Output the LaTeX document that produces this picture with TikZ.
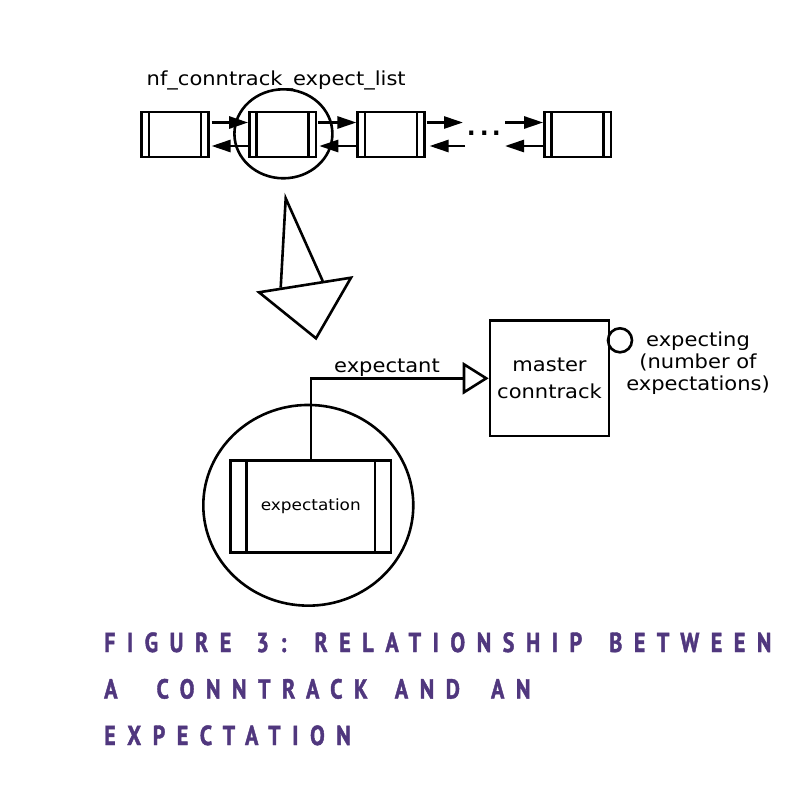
\documentclass[tikz,border=0pt]{standalone}
\usepackage{fontspec}
\setmainfont{DejaVu Sans}
\newfontfamily\dv[FakeStretch=1.09]{DejaVu Sans}
\newfontfamily\capfont[FakeStretch=0.8,FakeBold=1.5,LetterSpace=42]{PT Sans}
\newcommand\capgap[1][8pt]{\hspace*{#1}}
\usetikzlibrary{arrows.meta,shapes.geometric}
\definecolor{cappurple}{RGB}{80,55,126}
\tikzset{
  lw/.style={line width=2.6pt},
  listbox/.style={draw, lw, rectangle, minimum width=66.5pt, minimum height=45pt, inner sep=0pt,
    path picture={
      \draw[line width=2.6pt] ([xshift=7.3pt]path picture bounding box.north west) -- ([xshift=7.3pt]path picture bounding box.south west);
      \draw[line width=2.6pt] ([xshift=-7.3pt]path picture bounding box.north east) -- ([xshift=-7.3pt]path picture bounding box.south east);}},
  expbox/.style={draw, lw, rectangle, minimum width=160.3pt, minimum height=91.6pt, inner sep=0pt,
    font=\dv\fontsize{15.5}{18}\selectfont,
    path picture={
      \draw[line width=2.6pt] ([xshift=16pt]path picture bounding box.north west) -- ([xshift=16pt]path picture bounding box.south west);
      \draw[line width=2.6pt] ([xshift=-16pt]path picture bounding box.north east) -- ([xshift=-16pt]path picture bounding box.south east);}},
  arr/.style={lw, -{Triangle[length=19pt,width=12pt]}},
  ring/.style={draw, lw, ellipse, inner sep=0pt},
  lbl/.style={font=\dv\fontsize{19.3}{22}\selectfont, inner sep=0pt},
  capstyle/.style={font=\capfont\bfseries\fontsize{27.5}{30}\selectfont, text=cappurple, inner sep=0pt, anchor=base west},
}
\begin{document}
\begin{tikzpicture}[x=1pt, y=-1pt]
\useasboundingbox (0,0) rectangle (794,792);
\fill[white] (0,0) rectangle (794,792);

% linked list
\node[listbox] (l1) at (175,134.5) {};
\node[listbox] (l2) at (282.7,134.5) {};
\node[listbox] (l3) at (391,134.5) {};
\node[listbox] (l4) at (577.7,134.5) {};
\node[ring, minimum width=98pt, minimum height=89pt] (r1) at (283.4,133.8) {};
\node[lbl, anchor=base west] (title) at (146.5,85) {nf\_conntrack\_expect\_list};
\node[font=\dv\fontsize{36}{40}\selectfont, inner sep=0pt, anchor=base] (dots) at (484.5,135) {...};
\coordinate (d1) at (463,122.5);
\coordinate (d2) at (465,146);
\coordinate (d3) at (505,122.5);
\coordinate (d4) at (505,146);

\draw[arr] ([xshift=2pt,yshift=12pt]l1.east) -- ([yshift=12pt]l2.west);
\draw[arr] ([yshift=-11.5pt]l2.west) -- ([xshift=2pt,yshift=-11.5pt]l1.east);
\draw[arr] ([xshift=1pt,yshift=12pt]l2.east) -- ([yshift=12pt]l3.west);
\draw[arr] ([yshift=-11.5pt]l3.west) -- ([xshift=2pt,yshift=-11.5pt]l2.east);
\draw[arr] ([xshift=1pt,yshift=12pt]l3.east) -- (d1);
\draw[arr] (d2) -- ([xshift=4pt,yshift=-11.5pt]l3.east);
\draw[arr] (d3) -- ([yshift=12pt]l4.west);
\draw[arr] ([yshift=-11.5pt]l4.west) -- (d4);

% big hollow arrow
\draw[lw, line join=miter] (280.7,287.7) -- (285.7,198.3) -- (322.7,281);
\draw[lw, line join=miter, fill=white] (259,292.3) -- (351,277.7) -- (316,338.3) -- cycle;

% master conntrack
\node[draw, lw, rectangle, minimum width=119pt, minimum height=115.3pt, inner sep=0pt,
      align=center, font=\dv\fontsize{19.3}{27.6}\selectfont] (master) at (549.5,378.3) {master\\conntrack};
\node[draw, lw, circle, minimum size=24pt, inner sep=0pt] (cnt) at (620,340.3) {};
\node[lbl, align=center] (cntlbl) at (698,363) {expecting\\(number of\\expectations)};

% expectation
\node[ring, minimum width=210pt, minimum height=200.7pt] (r2) at (308.3,505.3) {};
\node[expbox] (exp) at (310.8,506.5) {expectation};
\draw[lw, -{Triangle[open, length=26pt, width=32pt]}] (exp.north) |- (master.west);
\node[lbl, anchor=base] (explbl) at (387,372.7) {expectant};

% caption
\node[capstyle] (cap1) at (104,652) {FIGURE\capgap{} 3:\capgap[11pt]{} RELATIONSHIP\capgap[10pt]{} BETWEEN};
\node[capstyle] (cap2) at (104,698.5) {A\capgap[22pt]{} CONNTRACK\capgap[10pt]{} AND\capgap[14pt]{} AN};
\node[capstyle] (cap3) at (104,745) {EXPECTATION};
\end{tikzpicture}
\end{document}
